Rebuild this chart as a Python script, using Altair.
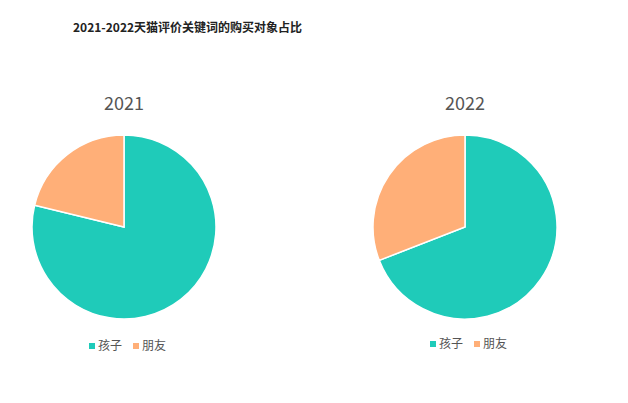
import altair as alt
import pandas as pd

categories = ["孩子", "朋友"]
years = ["2021", "2022"]
values_2021 = [78.8, 21.2]
values_2022 = [69.1, 30.9]
colors = ["#1FCBB9", "#FFAF78"]

FONT = "Noto Sans CJK SC"


def pie(year, vals, legend_y):
    df = pd.DataFrame({"对象": categories, "占比": vals, "idx": list(range(len(categories)))})
    return (
        alt.Chart(
            df,
            title=alt.TitleParams(
                year, fontSize=18, fontWeight="normal", color="#555555",
                font=FONT, anchor="middle", offset=13,
            ),
        )
        .mark_arc(radius=92, stroke="white", strokeWidth=1.5)
        .encode(
            theta=alt.Theta("占比:Q", stack=True),
            color=alt.Color(
                "对象:N",
                scale=alt.Scale(domain=categories, range=colors),
                legend=alt.Legend(
                    orient="none", legendX=62, legendY=legend_y,
                    direction="horizontal", title=None, symbolType="square",
                    symbolSize=36, labelFontSize=12, labelColor="#555555",
                    labelFont=FONT, columnPadding=7, labelOffset=0,
                    padding=0, symbolOffset=0, symbolStrokeWidth=0,
                ),
            ),
            order=alt.Order("idx:Q"),
        )
        .properties(width=200, height=200)
    )


chart = (
    alt.hconcat(
        pie(years[0], values_2021, 213),
        pie(years[1], values_2022, 211),
        spacing=141,
        title=alt.TitleParams(
            "2021-2022天猫评价关键词的购买对象占比", fontSize=12, fontWeight="bold",
            color="#222222", font=FONT, anchor="start", dx=49, offset=61,
        ),
    )
    .resolve_legend(color="independent")
    .properties(padding={"left": 16, "top": 14, "right": 5, "bottom": 5})
    .configure_view(stroke=None)
)

chart.save("out.html", embed_options={"renderer": "svg", "actions": False})
